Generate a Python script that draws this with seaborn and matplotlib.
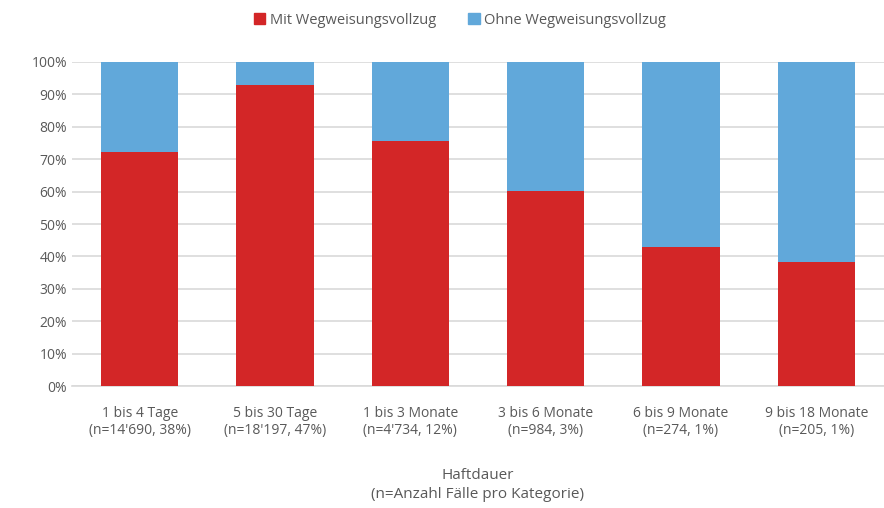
import matplotlib
matplotlib.use('Agg')
import matplotlib.pyplot as plt
from matplotlib.patches import Patch
from matplotlib.ticker import PercentFormatter
import pandas as pd
import seaborn as sns

categories = ['1 bis 4 Tage\n(n=14\'690, 38%)', '5 bis 30 Tage\n(n=18\'197, 47%)',
	'1 bis 3 Monate\n(n=4\'734, 12%)', '3 bis 6 Monate\n(n=984, 3%)',
	'6 bis 9 Monate\n(n=274, 1%)', '9 bis 18 Monate\n(n=205, 1%)']
mit_vollzug = [72.1, 92.9, 75.6, 60.1, 42.8, 38.2]
ohne_vollzug = [100 - v for v in mit_vollzug]

RED = '#d32627'
BLUE = '#61a8da'
TEXT = '#595959'

data = pd.DataFrame({'kategorie': categories, 'mit': mit_vollzug,
	'total': [m + o for m, o in zip(mit_vollzug, ohne_vollzug)]})

sns.set_style('white')
plt.rcParams['font.family'] = ['Open Sans', 'DejaVu Sans']

fig = plt.figure(figsize=(8.84, 5.08), dpi=100)
ax = fig.add_axes([0.0814, 0.240, 0.9186, 0.638])

sns.barplot(data=data, x='kategorie', y='total', color=BLUE, width=0.57,
	saturation=1, linewidth=0, ax=ax, zorder=2)
sns.barplot(data=data, x='kategorie', y='mit', color=RED, width=0.57,
	saturation=1, linewidth=0, ax=ax, zorder=3)

ax.set_xlim(-0.5, 5.5)
ax.set_ylim(0, 100)
ax.set_yticks(range(0, 101, 10))
ax.yaxis.set_major_formatter(PercentFormatter(decimals=0))
ax.grid(axis='y', color='#d9d9d9', linewidth=1.2, zorder=0)
ax.set_axisbelow(True)
for side in ['left', 'right', 'top']:
	ax.spines[side].set_visible(False)
ax.spines['bottom'].set_color('#d9d9d9')
ax.spines['bottom'].set_linewidth(1.2)

ax.tick_params(axis='both', length=0, colors=TEXT, labelsize=10)
ax.tick_params(axis='x', pad=14)
ax.set_ylabel('')
ax.set_xlabel('Haftdauer\n(n=Anzahl Fälle pro Kategorie)', color=TEXT, fontsize=11,
	labelpad=22, linespacing=1.3)

handles = [Patch(color=RED, label='Mit Wegweisungsvollzug'),
	Patch(color=BLUE, label='Ohne Wegweisungsvollzug')]
fig.legend(handles=handles, loc='center', bbox_to_anchor=(0.52, 0.96), ncol=2,
	frameon=False, fontsize=10.5, handlelength=0.8, handleheight=0.8,
	handletextpad=0.3, columnspacing=2.2, labelcolor=TEXT)

plt.savefig('out.png', dpi=100)
